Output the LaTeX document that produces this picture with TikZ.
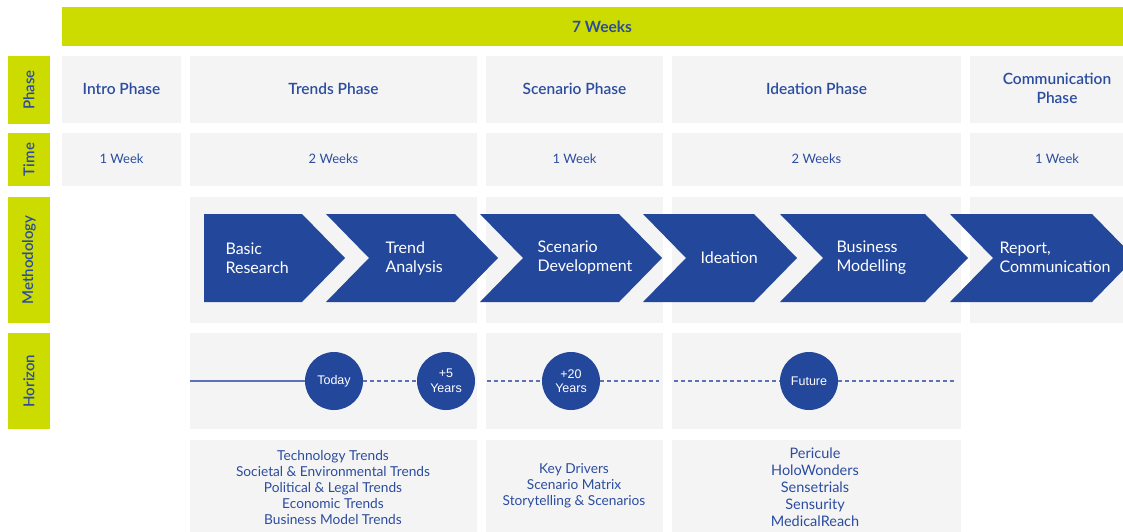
\documentclass[tikz,border=0pt]{standalone}
\usepackage{fontspec}
\setmainfont{Lato}
\newfontfamily\semi{Lato Semibold}
\newfontfamily\circfont{Liberation Sans}
\definecolor{lime}{HTML}{CCDC00}
\definecolor{navy}{HTML}{23479B}
\definecolor{cell}{HTML}{F4F4F4}
\definecolor{ink}{HTML}{2B4C9F}
\definecolor{rule}{HTML}{5C72B8}

\begin{document}
\begin{tikzpicture}[x=1pt,y=-1pt,
  head/.style={text=ink,align=center,font=\semi\fontsize{15.5}{19}\selectfont},
  weeks/.style={text=ink,font=\fontsize{13}{15}\selectfont},
  side/.style={text=ink,rotate=90,font=\semi\fontsize{15}{16}\selectfont},
  chev/.style={fill=navy},
  chevtext/.style={text=white,anchor=west,align=left,font=\fontsize{16}{19}\selectfont},
  circ/.style={circle,fill=navy,text=white,minimum size=58pt,inner sep=0pt,align=center,
    font=\circfont\fontsize{12.5}{14.5}\selectfont},
  hline/.style={draw=rule,line width=1.3pt},
  hdash/.style={hline,dash pattern=on 4pt off 3pt},
  list/.style={text=ink,align=center,font=\fontsize{13.7}{16}\selectfont}]
\useasboundingbox (0,0) rectangle (1123,532);
\clip (0,0) rectangle (1123,532);

% the seven weeks on top
\fill[lime] (62,7) rectangle (1123,46);
\node[text=ink,font=\bfseries\fontsize{15.5}{17}\selectfont] (total) at (602,27) {7 Weeks};

% row headers
\foreach \t/\b/\n in {56/124/Phase,133/186/Time,197/323/Methodology,333/429/Horizon}{
  \fill[lime] (8,\t) rectangle (50,\b);
  \node[side] (row-\n) at (29,{(\t+\b)/2}) {\n};
}

% phase and time cells
\foreach \l/\r/\p/\w/\n in {62/181/Intro Phase/1 Week/intro,
    190/477/Trends Phase/2 Weeks/trends,
    486/663/Scenario Phase/1 Week/scenario,
    672/961/Ideation Phase/2 Weeks/ideation,
    970/1144/{Communication\\Phase}/1 Week/comm}{
  \fill[cell] (\l,56) rectangle (\r,123);
  \fill[cell] (\l,133) rectangle (\r,186);
  \node[head] (ph-\n) at ({(\l+\r)/2},88.5) {\p};
  \node[weeks] (tm-\n) at ({(\l+\r)/2},159) {\w};
}

% methodology, horizon and result cells
\foreach \l/\r in {190/477,486/663,672/961,970/1140}
  \fill[cell] (\l,197) rectangle (\r,323);
\foreach \l/\r in {190/477,486/663,672/961}{
  \fill[cell] (\l,333) rectangle (\r,429);
  \fill[cell] (\l,440) rectangle (\r,540);
}

% process chevrons
\fill[chev] (204,214) -- (302,214) -- (345,258) -- (302,302) -- (204,302) -- cycle;
\foreach \a/\b in {326/498,480/662,643/797,780/968,950/1135}
  \fill[chev] (\a,214) -- (\b-43,214) -- (\b,258) -- (\b-43,302) -- (\a,302) -- (\a+43,258) -- cycle;
\node[chevtext] (basic) at (222,258) {Basic\\Research};
\node[chevtext] (trend) at (382,258) {Trend\\Analysis};
\node[chevtext] (scen) at (534,258) {Scenario\\Development};
\node[chevtext] (idea) at (697,258) {Ideation};
\node[chevtext] (busi) at (833,258) {Business\\Modelling};
\node[chevtext] (report) at (996,257) {Report,\\Communication};

% time horizon
\coordinate (h0) at (190,381);
\node[circ] (today) at (334,381) {Today};
\node[circ] (plus5) at (446,381) {+5\\Years};
\draw[hline] (h0) -- (today);
\draw[hdash] (today) -- (plus5);
\coordinate (s0) at (487,381);
\coordinate (s1) at (659,381);
\node[circ] (plus20) at (571,381) {+20\\Years};
\draw[hdash] (s0) -- (plus20) (plus20) -- (s1);
\coordinate (i0) at (674,381);
\coordinate (i1) at (956,381);
\node[circ] (future) at (809,381) {Future};
\draw[hdash] (i0) -- (future) (future) -- (i1);

% outcomes
\node[list] (trendlist) at (333,488) {Technology Trends\\Societal \& Environmental Trends\\
  Political \& Legal Trends\\Economic Trends\\Business Model Trends};
\node[list] (scenlist) at (574,486) {Key Drivers\\Scenario Matrix\\Storytelling \& Scenarios};
\node[list,font=\fontsize{14.5}{17}\selectfont] (idealist) at (815,487)
  {Pericule\\HoloWonders\\Sensetrials\\Sensurity\\MedicalReach};
\end{tikzpicture}
\end{document}
